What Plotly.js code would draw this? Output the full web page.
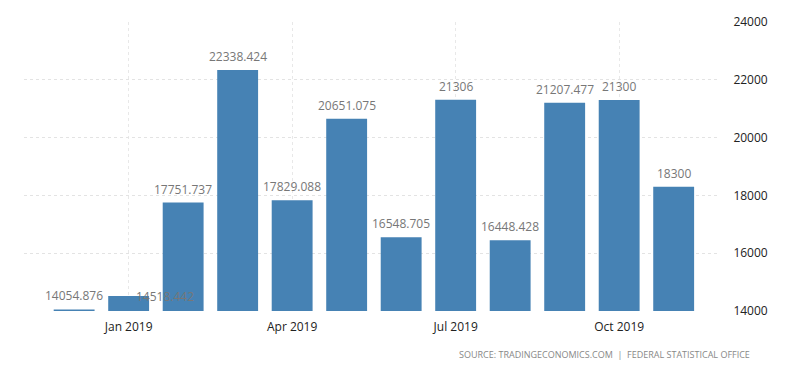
<!DOCTYPE html>
<html>
<head>
<meta charset="utf-8">
<script src="https://cdn.plot.ly/plotly-3.0.1.min.js"></script>
<style>html,body{margin:0;padding:0;background:#fff;}#chart{width:800px;height:373px;}</style>
</head>
<body>
<div id="chart"></div>
<script>
var months = ["Dec 2018","Jan 2019","Feb 2019","Mar 2019","Apr 2019","May 2019","Jun 2019","Jul 2019","Aug 2019","Sep 2019","Oct 2019","Nov 2019"];
var values = [14054.876, 14518.442, 17751.737, 22338.424, 17829.088, 20651.075, 16548.705, 21306, 16448.428, 21207.477, 21300, 18300];
var labels = ["14054.876","14518.442","17751.737","22338.424","17829.088","20651.075","16548.705","21306","16448.428","21207.477","21300","18300"];
var xTicks = ["Jan 2019","Apr 2019","Jul 2019","Oct 2019"];
var yTicks = [14000, 16000, 18000, 20000, 22000, 24000];
var baseValue = 14000;
var sourceText = "SOURCE: TRADINGECONOMICS.COM  |  FEDERAL STATISTICAL OFFICE";

var trace = {
  type: 'bar',
  x: months,
  y: values.map(function(v){return v - baseValue;}),
  base: baseValue,
  cliponaxis: false,
  marker: {color: '#4682B4', line: {width: 0}},
  hoverinfo: 'x+y'
};

var annotations = months.map(function(m, i){
  var a = {
    xref: 'x', yref: 'y', x: m, y: values[i],
    text: labels[i], showarrow: false,
    xanchor: 'center', yanchor: 'bottom', yshift: 3,
    font: {family: 'Open Sans, sans-serif', size: 12, color: '#777'}
  };
  if (i === 1) { a.xshift = 36; a.yanchor = 'middle'; a.yshift = 0; }
  return a;
});

annotations.push({
  xref: 'paper', yref: 'paper',
  x: 1.046, y: -0.152,
  xanchor: 'right', yanchor: 'middle',
  text: sourceText,
  showarrow: false,
  font: {family: 'Open Sans, sans-serif', size: 9, color: '#888'}
});

var layout = {
  width: 800, height: 373,
  margin: {l: 24, r: 80, t: 22, b: 62},
  paper_bgcolor: '#fff', plot_bgcolor: '#fff',
  bargap: 0.25,
  showlegend: false,
  xaxis: {
    type: 'category',
    range: [-0.92, 11.85],
    tickvals: xTicks,
    ticktext: xTicks,
    showgrid: true,
    gridcolor: '#e8e8e8',
    griddash: 'dot',
    ticks: 'outside',
    ticklen: 5,
    tickcolor: 'rgba(0,0,0,0)',
    tickfont: {family: 'Open Sans, sans-serif', size: 12, color: '#222'},
    zeroline: false,
    showline: false
  },
  yaxis: {
    side: 'right',
    range: [14000, 24000],
    tickvals: yTicks,
    ticktext: yTicks.map(String),
    showgrid: true,
    gridcolor: '#e3e3e3',
    griddash: 'dot',
    ticks: 'outside',
    ticklen: 10,
    tickcolor: 'rgba(0,0,0,0)',
    tickfont: {family: 'Open Sans, sans-serif', size: 12, color: '#222'},
    zeroline: false,
    showline: false
  },
  annotations: annotations
};

Plotly.newPlot('chart', [trace], layout, {displayModeBar: false, staticPlot: true});
</script>
</body>
</html>
